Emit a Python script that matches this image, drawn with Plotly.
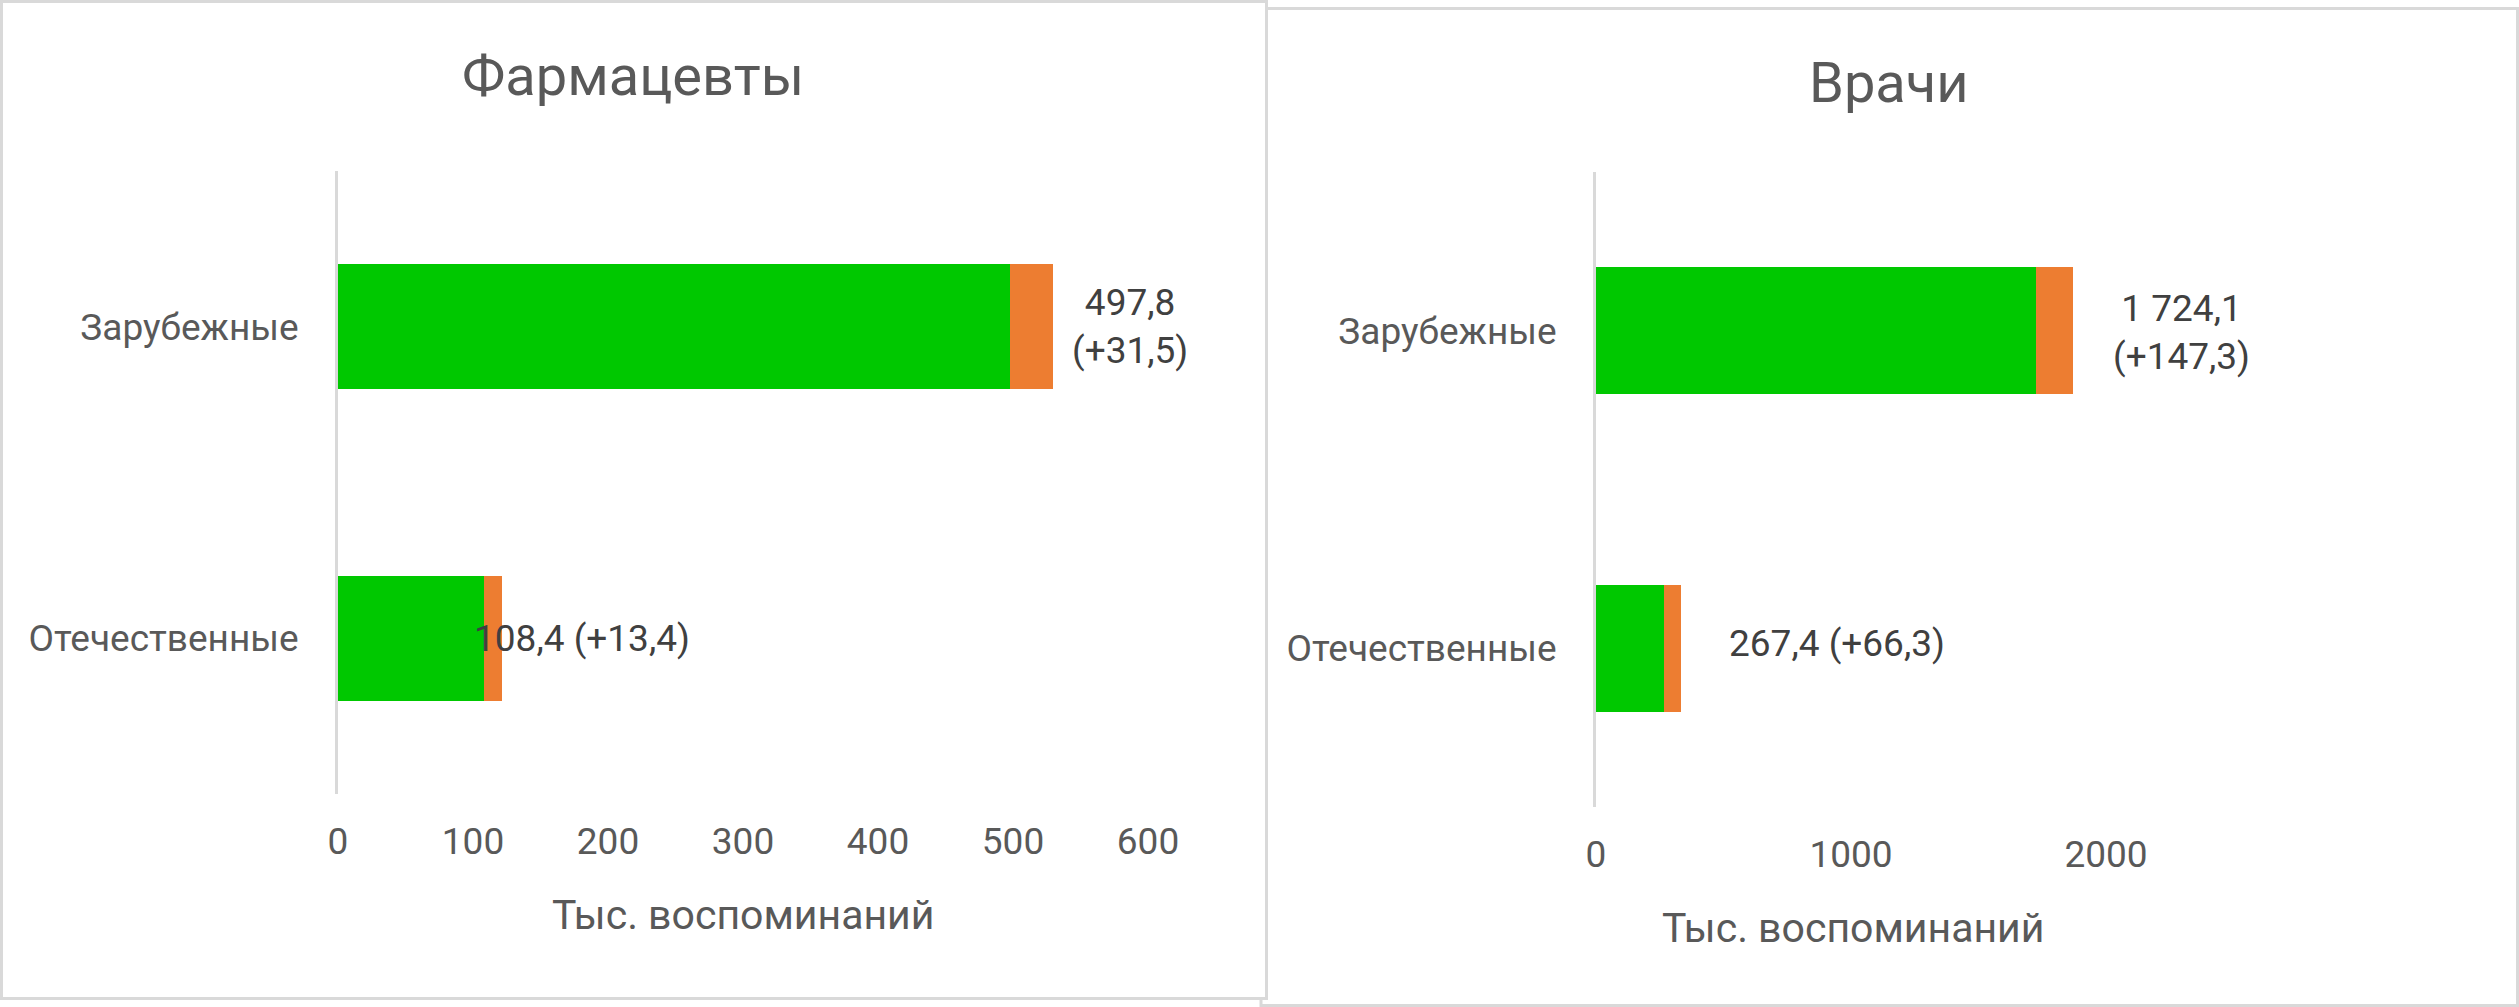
import plotly.graph_objects as go

# ---------------- data ----------------
categories = ["Отечественные", "Зарубежные"]          # bottom -> top
pharm_base = [108.4, 497.8]
pharm_added = [13.4, 31.5]
doc_base = [267.4, 1724.1]
doc_added = [66.3, 147.3]
pharm_ticks = [0, 100, 200, 300, 400, 500, 600]
doc_ticks = [0, 1000, 2000]
title_pharm = "Фармацевты"
title_doc = "Врачи"
axis_title = "Тыс. воспоминаний"

# ---------------- style ----------------
W, H = 2519, 1007
GREEN = "#00C800"
ORANGE = "#ED7D31"
GRID = "#D9D9D9"
TXT = "#595959"
LBL = "#404040"
FONT = "Roboto"


def px(x):
    return x / W


def py(y):
    return 1 - y / H


def fmt(v):
    s = f"{v:,.1f}"
    return s.replace(",", " ").replace(".", ",")


def label(base, add, wrap):
    sep = "<br>" if wrap else " "
    return f"{fmt(base)}{sep}(+{fmt(add)})"


fig = go.Figure()

panels = [
    dict(x="x", y="y", base=pharm_base, add=pharm_added),
    dict(x="x2", y="y2", base=doc_base, add=doc_added),
]
for p in panels:
    fig.add_trace(go.Bar(y=categories, x=p["base"], orientation="h",
                         marker=dict(color=GREEN, line=dict(width=0)),
                         xaxis=p["x"], yaxis=p["y"], hoverinfo="skip",
                         showlegend=False))
    fig.add_trace(go.Bar(y=categories, x=p["add"], orientation="h",
                         marker=dict(color=ORANGE, line=dict(width=0)),
                         xaxis=p["x"], yaxis=p["y"], hoverinfo="skip",
                         showlegend=False))

common_x = dict(showline=False, showgrid=False, zeroline=False, ticks="",
                tickfont=dict(family=FONT, size=37, color=TXT),
                ticklabelstandoff=22, fixedrange=True, automargin=False)
common_y = dict(showline=True, linecolor=GRID, linewidth=3, showgrid=False,
                zeroline=False, ticks="", type="category",
                categoryorder="array", categoryarray=categories,
                tickfont=dict(family=FONT, size=37, color=TXT),
                ticklabelstandoff=29, fixedrange=True, automargin=False)

fig.update_layout(
    width=W, height=H, autosize=False,
    margin=dict(l=0, r=0, t=0, b=0, pad=0, autoexpand=False),
    paper_bgcolor="white", plot_bgcolor="rgba(0,0,0,0)",
    barmode="stack", bargap=0.6,
    showlegend=False,
    xaxis=dict(common_x, domain=[px(338), px(1148)], range=[0, 600],
               tickvals=pharm_ticks, anchor="y"),
    yaxis=dict(common_y, domain=[py(794), py(171)], anchor="x"),
    xaxis2=dict(common_x, domain=[px(1596), px(2106)], range=[0, 2000],
                tickvals=doc_ticks, anchor="y2"),
    yaxis2=dict(common_y, domain=[py(807), py(172)], anchor="x2"),
)

# panel frames (right one first, left one drawn over it)
fig.add_shape(type="rect", xref="paper", yref="paper",
              x0=px(1261), x1=px(2517.5), y0=py(1005.5), y1=py(8.5),
              line=dict(color=GRID, width=3), fillcolor="white", layer="below")
fig.add_shape(type="rect", xref="paper", yref="paper",
              x0=px(1.5), x1=px(1266.5), y0=py(998.5), y1=py(1.5),
              line=dict(color=GRID, width=3), fillcolor="white", layer="below")

# titles
fig.add_annotation(text=title_pharm, xref="paper", yref="paper",
                   x=px(633), y=py(76), xanchor="center", yanchor="middle",
                   showarrow=False, font=dict(family=FONT, size=56, color=TXT))
fig.add_annotation(text=title_doc, xref="paper", yref="paper",
                   x=px(1889), y=py(83), xanchor="center", yanchor="middle",
                   showarrow=False, font=dict(family=FONT, size=56, color=TXT))

# axis titles
fig.add_annotation(text=axis_title, xref="paper", yref="paper",
                   x=px(743), y=py(915), xanchor="center", yanchor="middle",
                   showarrow=False, font=dict(family=FONT, size=41, color=TXT))
fig.add_annotation(text=axis_title, xref="paper", yref="paper",
                   x=px(1853), y=py(928), xanchor="center", yanchor="middle",
                   showarrow=False, font=dict(family=FONT, size=41, color=TXT))

# data labels: anchored at the bar total, shifted right by a pixel gap
label_pos = {
    "x": dict(dx=[80, 77], wrap=[False, True], yshift=[0, 0]),
    "x2": dict(dx=[156, 108], wrap=[False, True], yshift=[5, -2]),
}
for p in panels:
    lp = label_pos[p["x"]]
    for i, cat in enumerate(categories):
        total = p["base"][i] + p["add"][i]
        fig.add_annotation(text=label(p["base"][i], p["add"][i], lp["wrap"][i]),
                           xref=p["x"], yref=p["y"], x=total, y=cat,
                           xanchor="center", yanchor="middle",
                           xshift=lp["dx"][i], yshift=lp["yshift"][i],
                           showarrow=False,
                           font=dict(family=FONT, size=37, color=LBL))

fig.write_html(
    "out.html",
    config={"displayModeBar": False, "staticPlot": True},
    post_script=("document.body.style.margin='0';"
                 "document.body.style.overflow='hidden';"
                 "document.documentElement.style.overflow='hidden';"),
)
